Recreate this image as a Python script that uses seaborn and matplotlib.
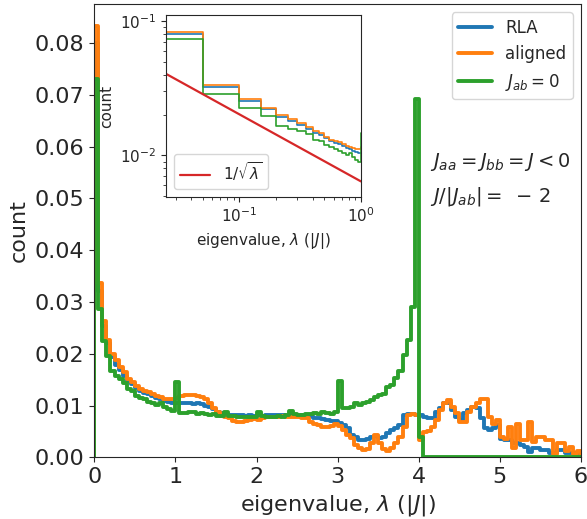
import numpy as np
import pandas as pd
import matplotlib
matplotlib.use("Agg")
import matplotlib.pyplot as plt
import seaborn as sns

# Eigenvalue histograms, bin width 0.05 |J| on [0, 6]
BIN_WIDTH = 0.05
bin_edges = np.round(np.arange(0.0, 6.0 + BIN_WIDTH / 2, BIN_WIDTH), 2)

rla = [
    0.0800, 0.0322, 0.0254, 0.0220, 0.0194, 0.0179, 0.0168, 0.0158, 0.0147, 0.0142,
    0.0134, 0.0128, 0.0124, 0.0122, 0.0118, 0.0114, 0.0112, 0.0108, 0.0106, 0.0104,
    0.0104, 0.0105, 0.0104, 0.0104, 0.0103, 0.0104, 0.0102, 0.0100, 0.0098, 0.0093,
    0.0087, 0.0085, 0.0083, 0.0082, 0.0081, 0.0082, 0.0081, 0.0080, 0.0081, 0.0080,
    0.0081, 0.0080, 0.0081, 0.0082, 0.0082, 0.0081, 0.0081, 0.0080, 0.0082, 0.0081,
    0.0080, 0.0081, 0.0081, 0.0079, 0.0076, 0.0075, 0.0074, 0.0072, 0.0071, 0.0070,
    0.0067, 0.0063, 0.0056, 0.0044, 0.0040, 0.0034, 0.0034, 0.0036, 0.0040, 0.0041,
    0.0038, 0.0039, 0.0047, 0.0053, 0.0056, 0.0062, 0.0081, 0.0083, 0.0083, 0.0082,
    0.0081, 0.0078, 0.0075, 0.0076, 0.0088, 0.0095, 0.0104, 0.0104, 0.0091, 0.0078,
    0.0072, 0.0085, 0.0091, 0.0098, 0.0096, 0.0075, 0.0056, 0.0053, 0.0056, 0.0062,
    0.0036, 0.0033, 0.0033, 0.0027, 0.0027, 0.0024, 0.0020, 0.0011, 0.0018, 0.0018,
    0.0015, 0.0015, 0.0009, 0.0009, 0.0014, 0.0014, 0.0009, 0.0009, 0.0009, 0.0006,
]

aligned = [
    0.0834, 0.0336, 0.0264, 0.0227, 0.0200, 0.0187, 0.0174, 0.0164, 0.0152, 0.0146,
    0.0138, 0.0131, 0.0128, 0.0126, 0.0122, 0.0118, 0.0116, 0.0113, 0.0112, 0.0112,
    0.0115, 0.0118, 0.0120, 0.0121, 0.0120, 0.0119, 0.0116, 0.0112, 0.0104, 0.0095,
    0.0088, 0.0080, 0.0077, 0.0076, 0.0071, 0.0069, 0.0069, 0.0071, 0.0073, 0.0074,
    0.0073, 0.0075, 0.0077, 0.0078, 0.0078, 0.0077, 0.0079, 0.0078, 0.0077, 0.0078,
    0.0077, 0.0076, 0.0075, 0.0069, 0.0065, 0.0062, 0.0059, 0.0059, 0.0061, 0.0064,
    0.0060, 0.0052, 0.0044, 0.0038, 0.0024, 0.0018, 0.0014, 0.0016, 0.0027, 0.0044,
    0.0027, 0.0016, 0.0013, 0.0018, 0.0027, 0.0040, 0.0059, 0.0081, 0.0083, 0.0081,
    0.0033, 0.0049, 0.0051, 0.0059, 0.0072, 0.0091, 0.0104, 0.0111, 0.0098, 0.0085,
    0.0069, 0.0069, 0.0088, 0.0098, 0.0104, 0.0112, 0.0112, 0.0078, 0.0065, 0.0072,
    0.0040, 0.0036, 0.0059, 0.0018, 0.0065, 0.0033, 0.0033, 0.0069, 0.0030, 0.0040,
    0.0040, 0.0033, 0.0033, 0.0007, 0.0027, 0.0027, 0.0013, 0.0020, 0.0007, 0.0013,
]

jab_zero = [
    0.0731, 0.0287, 0.0225, 0.0195, 0.0166, 0.0158, 0.0151, 0.0144, 0.0131, 0.0128,
    0.0119, 0.0115, 0.0112, 0.0107, 0.0104, 0.0101, 0.0104, 0.0097, 0.0093, 0.0090,
    0.0146, 0.0086, 0.0085, 0.0088, 0.0087, 0.0083, 0.0085, 0.0083, 0.0082, 0.0084,
    0.0080, 0.0079, 0.0088, 0.0080, 0.0079, 0.0078, 0.0077, 0.0078, 0.0077, 0.0078,
    0.0088, 0.0079, 0.0078, 0.0077, 0.0078, 0.0079, 0.0078, 0.0082, 0.0089, 0.0083,
    0.0081, 0.0082, 0.0084, 0.0083, 0.0085, 0.0084, 0.0087, 0.0085, 0.0084, 0.0088,
    0.0148, 0.0095, 0.0095, 0.0098, 0.0104, 0.0101, 0.0105, 0.0106, 0.0110, 0.0117,
    0.0120, 0.0123, 0.0136, 0.0140, 0.0153, 0.0166, 0.0198, 0.0227, 0.0290, 0.0692,
    0.0040, 0.0, 0.0, 0.0, 0.0, 0.0, 0.0, 0.0, 0.0, 0.0,
    0.0, 0.0, 0.0, 0.0, 0.0, 0.0, 0.0, 0.0, 0.0, 0.0,
    0.0, 0.0, 0.0, 0.0, 0.0, 0.0, 0.0, 0.0, 0.0, 0.0,
    0.0, 0.0, 0.0, 0.0, 0.0, 0.0, 0.0, 0.0, 0.0, 0.0,
]

series_labels = ["RLA", "aligned", r"$J_{ab}=0$"]
series_values = [rla, aligned, jab_zero]
series_colors = ["#1f77b4", "#ff7f0e", "#2ca02c"]

# prefactor of the 1/sqrt(lambda) guide line in the inset
SQRT_PREFACTOR = 0.0064


def outline(values):
    """Closed step outline of a histogram: rises from zero at the first edge
    and drops back to zero at the last edge."""
    x = np.r_[bin_edges[0], bin_edges]
    y = np.r_[0.0, np.asarray(values, dtype=float), 0.0]
    return pd.DataFrame({"eigenvalue": x, "count": y})


sns.set_style("ticks")
plt.rcParams["font.family"] = ["DejaVu Sans"]
plt.rcParams["mathtext.fontset"] = "dejavusans"

fig = plt.figure(figsize=(5.87, 5.19), dpi=100)
ax = fig.add_axes([0.1606, 0.1189, 0.8292, 0.8734])

for label, values, color in zip(series_labels, series_values, series_colors):
    sns.lineplot(data=outline(values), x="eigenvalue", y="count",
                 estimator=None, sort=False, drawstyle="steps-post",
                 color=color, linewidth=2.8, label=label, ax=ax)

ax.set_xlim(0, 6)
ax.set_ylim(0, None)
ax.set_xlabel(r"eigenvalue, $\lambda$ ($|J|$)", fontsize=16)
ax.set_ylabel("count", fontsize=16)
ax.tick_params(labelsize=16)
ax.legend(loc="upper right", fontsize=12)

ax.text(4.14, 0.0561, r"$J_{aa}=J_{bb}=J<0$", fontsize=14, va="baseline")
ax.text(4.14, 0.0494, r"$J/|J_{ab}|=\;-\,2$", fontsize=14, va="baseline")

# inset: low-eigenvalue tail on log-log axes
axin = fig.add_axes([0.2828, 0.6204, 0.3322, 0.3507])
for values, color in zip(series_values, series_colors):
    sns.lineplot(data=outline(values), x="eigenvalue", y="count",
                 estimator=None, sort=False, drawstyle="steps-post",
                 color=color, linewidth=1.2, ax=axin)

lam = np.geomspace(0.02, 1.0, 60)
sns.lineplot(x=lam, y=SQRT_PREFACTOR / np.sqrt(lam), color="#d62728",
             linewidth=1.6, label=r"$1/\sqrt{\lambda}$", ax=axin)

axin.set_xscale("log")
axin.set_yscale("log")
axin.set_xlim(0.025, 1.0)
axin.set_ylim(0.0049, 0.111)
axin.set_xlabel(r"eigenvalue, $\lambda$ ($|J|$)", fontsize=11)
axin.set_ylabel("count", fontsize=11)
axin.tick_params(which="major", labelsize=11)
axin.legend(loc="lower left", fontsize=11)

fig.savefig("out.png", dpi=100)
